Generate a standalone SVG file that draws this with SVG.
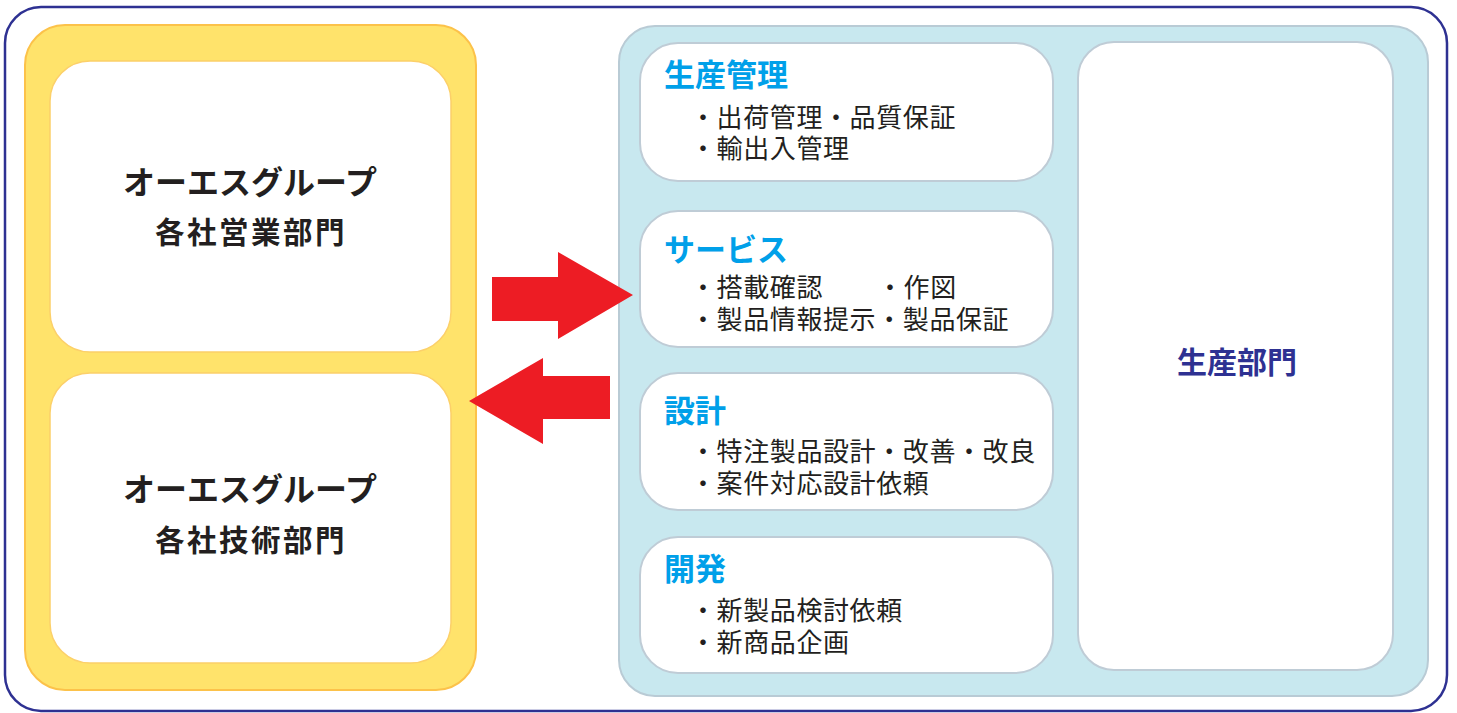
<svg xmlns="http://www.w3.org/2000/svg" width="1457" height="713" viewBox="0 0 1457 713">
<style>
text{font-family:"Noto Sans CJK JP","Noto Sans CJK SC",sans-serif;}
.frame{fill:#fff;stroke:#2e3192;stroke-width:2.5}
.yel{fill:#ffe36b;stroke:#fcc24a;stroke-width:2}
.ywhite{fill:#fff;stroke:#fcd06a;stroke-width:1.5}
.blu{fill:#c8e8ef;stroke:#b9cbd5;stroke-width:2}
.bwhite{fill:#fff;stroke:#bfccd6;stroke-width:2}
.t1{font-size:32px;font-weight:700;fill:#231f20;text-anchor:middle}
.t2{font-size:29.5px;font-weight:700;fill:#231f20;text-anchor:middle;letter-spacing:2.5px}
.hd{font-size:31px;font-weight:700;fill:#00a0e9}
.it{font-size:26px;font-weight:400;fill:#231f20;letter-spacing:0.6px}
.dep{font-size:30px;font-weight:700;fill:#2e3192;text-anchor:middle}
.arr{fill:#ed1c24}
</style>
<rect class="frame" x="5" y="7" width="1442" height="704" rx="36"/>
<g id="group-left">
<rect class="yel" x="25" y="25" width="451" height="665" rx="40"/>
</g>
<g id="sales">
<rect class="ywhite" x="50" y="61" width="401" height="291" rx="40"/>
<text class="t1" x="250" y="194">オーエスグループ</text>
<text class="t2" x="251" y="243">各社営業部門</text>
</g>
<g id="tech">
<rect class="ywhite" x="50" y="373" width="401" height="290" rx="40"/>
<text class="t1" x="250" y="501">オーエスグループ</text>
<text class="t2" x="251" y="551">各社技術部門</text>
</g>
<g id="group-right">
<rect class="blu" x="619" y="26" width="809" height="670" rx="36"/>
</g>
<g id="seisan-kanri">
<rect class="bwhite" x="640" y="43" width="413" height="138" rx="38"/>
<text class="hd" x="664" y="86">生産管理</text>
<text class="it"><tspan x="690" y="127">・出荷管理・品質保証</tspan><tspan x="690" y="158">・輸出入管理</tspan></text>
</g>
<g id="service">
<rect class="bwhite" x="640" y="211" width="413" height="136" rx="38"/>
<text class="hd" x="664" y="261">サービス</text>
<text class="it"><tspan x="690" y="297">・搭載確認</tspan><tspan x="877" y="297">・作図</tspan><tspan x="690" y="329">・製品情報提示・製品保証</tspan></text>
</g>
<g id="sekkei">
<rect class="bwhite" x="640" y="373" width="413" height="137" rx="38"/>
<text class="hd" x="664" y="422">設計</text>
<text class="it"><tspan x="690" y="461">・特注製品設計・改善・改良</tspan><tspan x="690" y="493">・案件対応設計依頼</tspan></text>
</g>
<g id="kaihatsu">
<rect class="bwhite" x="640" y="537" width="413" height="136" rx="38"/>
<text class="hd" x="664" y="580">開発</text>
<text class="it"><tspan x="690" y="620">・新製品検討依頼</tspan><tspan x="690" y="652">・新商品企画</tspan></text>
</g>
<g id="production">
<rect class="bwhite" x="1078" y="42" width="315" height="628" rx="36"/>
<text class="dep" x="1237" y="373">生産部門</text>
</g>
<g id="connectors">
<polygon class="arr" points="492,277 558,277 558,252 633,295 558,339 558,321 492,321"/>
<polygon class="arr" points="610,376 543,376 543,358 469,401 543,444 543,419 610,419"/>
</g>
</svg>
